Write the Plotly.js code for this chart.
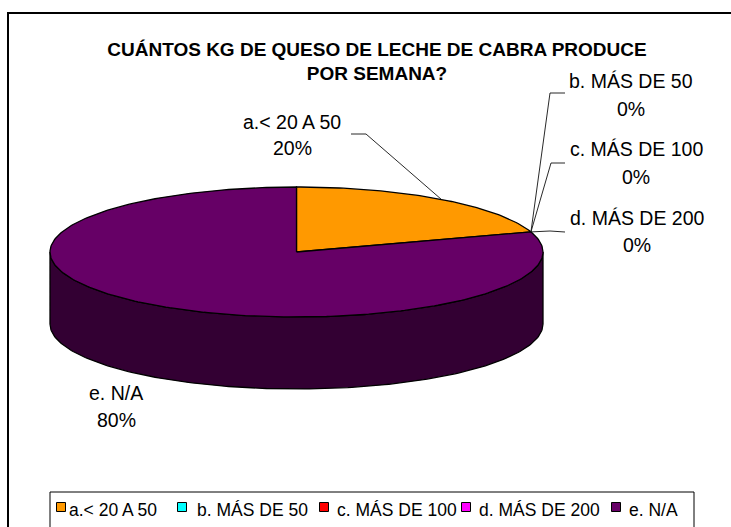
<!DOCTYPE html>
<html>
<head>
<meta charset="utf-8">
<script src="https://cdn.plot.ly/plotly-3.0.1.min.js"></script>
<style>html,body{margin:0;padding:0;background:#fff;}</style>
</head>
<body>
<div id="chart" style="width:731px;height:527px;"></div>
<script>
// ---- data ----
const categories = ['a.< 20 A 50', 'b. MÁS DE 50', 'c. MÁS DE 100', 'd. MÁS DE 200', 'e. N/A'];
const values = [20, 0, 0, 0, 80];
const colors = ['#FF9900', '#00FFFF', '#FF0000', '#FF00FF', '#660066'];
const titleText = 'CUÁNTOS KG DE QUESO DE LECHE DE CABRA PRODUCE<br>POR SEMANA?';

// ---- layout geometry (pixel units of the hidden axes) ----
const FONT = 'Liberation Sans, Arial, sans-serif';
const CX = 296.5, CY = 252, RX = 246.5, RY = 65, DEPTH = 72;
// label placement: center x, line1 y, line2 y, leader elbow points
const labelLayout = [
  {x: 292, y1: 122, y2: 148, elbow: [[351, 134], [366, 134]]},
  {x: 631, y1: 81,  y2: 109, elbow: [[565, 93], [550, 93]]},
  {x: 636, y1: 149, y2: 177, elbow: [[565, 163], [551, 163]]},
  {x: 637, y1: 218, y2: 245, elbow: [[565, 232], [550, 231]]},
  {x: 116, y1: 393, y2: 420, elbow: null}
];
// legend placement: square center x, text start x
const legendSq = [61, 182, 324, 466, 616];
const legendTx = [67, 195, 335, 477, 627];
const LEG_SQ_Y = 507, LEG_TX_Y = 510, SQ = 9;

const total = values.reduce((a, b) => a + b, 0);
function pt(deg, drop) {
  const r = deg * Math.PI / 180;
  return [CX + RX * Math.sin(r), CY - RY * Math.cos(r) + (drop || 0)];
}
function darker(hex) {
  const n = parseInt(hex.slice(1), 16);
  const r = (n >> 16) & 255, g = (n >> 8) & 255, b = n & 255;
  const h = v => Math.round(v / 2).toString(16).padStart(2, '0');
  return '#' + h(r) + h(g) + h(b);
}

let acc = 0;
const slices = values.map((v, i) => {
  const a0 = acc / total * 360; acc += v; const a1 = acc / total * 360;
  return {i, a0, a1, mid: (a0 + a1) / 2};
});

const traces = [];
// side walls (front half only)
slices.forEach(s => {
  const lo = Math.max(s.a0, 90), hi = Math.min(s.a1, 270);
  if (hi <= lo) return;
  const xs = [], ys = [];
  for (let d = lo; d <= hi + 1e-9; d += 1) { const p = pt(d); xs.push(p[0]); ys.push(p[1]); }
  for (let d = hi; d >= lo - 1e-9; d -= 1) { const p = pt(d, DEPTH); xs.push(p[0]); ys.push(p[1]); }
  xs.push(xs[0]); ys.push(ys[0]);
  traces.push({type: 'scatter', mode: 'lines', x: xs, y: ys, fill: 'toself',
    fillcolor: darker(colors[s.i]), line: {color: '#000', width: 1.3},
    hoverinfo: 'skip', showlegend: false});
});
// top faces
slices.forEach(s => {
  if (s.a1 <= s.a0) return;
  const xs = [CX], ys = [CY];
  const steps = Math.max(2, Math.ceil(s.a1 - s.a0));
  for (let k = 0; k <= steps; k++) {
    const p = pt(s.a0 + (s.a1 - s.a0) * k / steps); xs.push(p[0]); ys.push(p[1]);
  }
  xs.push(CX); ys.push(CY);
  traces.push({type: 'scatter', mode: 'lines', x: xs, y: ys, fill: 'toself',
    fillcolor: colors[s.i], line: {color: '#000', width: 1.3},
    name: categories[s.i], hoverinfo: 'skip', showlegend: false});
});
// leader lines
slices.forEach(s => {
  const L = labelLayout[s.i];
  if (!L.elbow) return;
  const edge = pt(s.mid);
  traces.push({type: 'scatter', mode: 'lines',
    x: [L.elbow[0][0], L.elbow[1][0], edge[0]],
    y: [L.elbow[0][1], L.elbow[1][1], edge[1]],
    line: {color: '#111', width: 0.9}, hoverinfo: 'skip', showlegend: false});
});

const annotations = [];
const shapes = [];
categories.forEach((c, i) => {
  const L = labelLayout[i];
  const pct = Math.round(values[i] / total * 100) + '%';
  annotations.push({x: L.x, y: L.y1, xref: 'x', yref: 'y', text: c, showarrow: false,
    xanchor: 'center', yanchor: 'middle', font: {family: FONT, size: 19.5, color: '#000'}});
  annotations.push({x: L.x, y: L.y2, xref: 'x', yref: 'y', text: pct, showarrow: false,
    xanchor: 'center', yanchor: 'middle', font: {family: FONT, size: 19.5, color: '#000'}});
  // legend entry
  shapes.push({type: 'rect', xref: 'x', yref: 'y',
    x0: legendSq[i] - SQ / 2, x1: legendSq[i] + SQ / 2, y0: LEG_SQ_Y - SQ / 2, y1: LEG_SQ_Y + SQ / 2,
    fillcolor: colors[i], line: {color: '#000', width: 1}});
  annotations.push({x: legendTx[i], y: LEG_TX_Y, xref: 'x', yref: 'y', text: c, showarrow: false,
    xanchor: 'left', yanchor: 'middle', font: {family: FONT, size: 17.5, color: '#000'}});
});
// chart frame and legend frame
shapes.push({type: 'rect', xref: 'x', yref: 'y', x0: 8, y0: 13, x1: 760, y1: 560,
  line: {color: '#000', width: 2}, fillcolor: 'rgba(0,0,0,0)', layer: 'below'});
shapes.push({type: 'rect', xref: 'x', yref: 'y', x0: 50, y0: 492, x1: 694, y1: 560,
  line: {color: '#000', width: 1}, fillcolor: 'rgba(0,0,0,0)'});

const layout = {
  width: 731, height: 527,
  margin: {l: 0, r: 0, t: 0, b: 0},
  paper_bgcolor: '#fff', plot_bgcolor: '#fff',
  showlegend: false, hovermode: false,
  title: {text: '<b>' + titleText + '</b>', font: {family: FONT, size: 19, color: '#000'},
    x: 377 / 731, xref: 'container', xanchor: 'center',
    y: 1 - 55.5 / 527, yref: 'container', yanchor: 'middle'},
  xaxis: {range: [0, 731], visible: false, fixedrange: true},
  yaxis: {range: [527, 0], visible: false, fixedrange: true},
  annotations: annotations,
  shapes: shapes
};
Plotly.newPlot('chart', traces, layout, {displayModeBar: false, staticPlot: true});
</script>
</body>
</html>
